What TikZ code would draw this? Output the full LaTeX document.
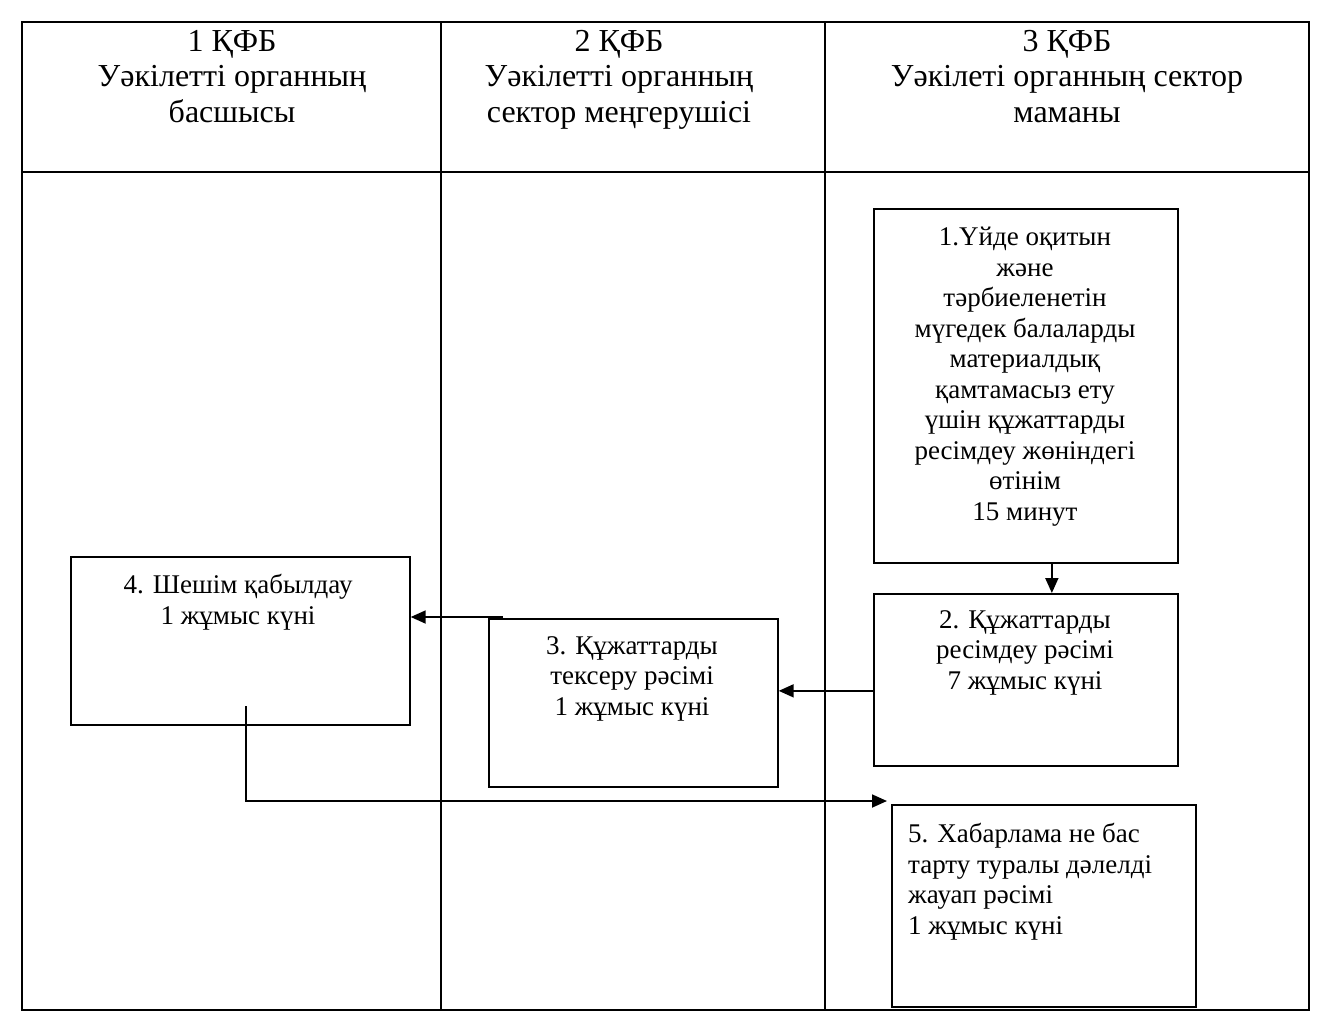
\documentclass[tikz,border=0pt]{standalone}
\usepackage{fontspec}
\setmainfont{Liberation Serif}
\usetikzlibrary{arrows.meta}
\begin{document}
\begin{tikzpicture}[x=1pt,y=-1pt,
  frame/.style={line width=1.8pt},
  box/.style={draw,line width=1.7pt,anchor=north west,inner sep=0pt},
  head/.style={anchor=north,align=center,inner sep=0pt,font=\fontsize{32}{35.5}\selectfont},
  txt/.style={anchor=north,align=center,inner sep=0pt,font=\fontsize{27}{30.5}\selectfont},
  arr/.style={line width=1.8pt,-{Triangle[length=15pt,width=13pt]}}]
\useasboundingbox (0,0) rectangle (1325,1015);
% table
\draw[frame] (22,22) rectangle (1309,1010);
\draw[frame] (22,172) -- (1309,172);
\draw[frame] (441,22) -- (441,1010);
\draw[frame] (825,22) -- (825,1010);
% headers
\node[head] (h1) at (232,30) {1 ҚФБ\\Уәкілетті органның\\басшысы};
\node[head] (h2) at (619,30) {2 ҚФБ\\Уәкілетті органның\\сектор меңгерушісі};
\node[head] (h3) at (1067,30) {3 ҚФБ\\Уәкілеті органның сектор\\маманы};
% boxes
\node[box,minimum width=304pt,minimum height=354pt] (b1) at (873,208) {};
\node[box,minimum width=304pt,minimum height=172pt] (b2) at (873,593) {};
\node[box,minimum width=289pt,minimum height=168pt] (b3) at (488,618) {};
\node[box,minimum width=339pt,minimum height=168pt] (b4) at (70,556) {};
\node[box,minimum width=304pt,minimum height=202pt] (b5) at (891,804) {};
% box texts
\node[txt] (t1) at (1025,227) {1.Үйде оқитын\\және\\тәрбиеленетін\\мүгедек балаларды\\материалдық\\қамтамасыз ету\\үшін құжаттарды\\ресімдеу жөніндегі\\өтінім\\15 минут};
\node[txt] (t2) at (1025,610) {2. Құжаттарды\\ресімдеу рәсімі\\7 жұмыс күні};
\node[txt] (t3) at (632,636) {3. Құжаттарды\\тексеру рәсімі\\1 жұмыс күні};
\node[txt] (t4) at (238,574) {4. Шешім қабылдау\\1 жұмыс күні};
\node[txt,anchor=north west,align=left] (t5) at (908,823) {5. Хабарлама не бас\\тарту туралы дәлелді\\жауап рәсімі\\1 жұмыс күні};
% connectors
\draw[arr] ([xshift=26pt]b1.south) -- ([xshift=26pt]b2.north);
\draw[arr] ([yshift=-11pt]b2.west) -- ([yshift=-11pt]b2.west -| b3.east);
\coordinate (c3) at (503,617);
\draw[arr] (c3) -- (c3 -| b4.east);
\coordinate (c4) at (246,706);
\coordinate (c5) at (887,801);
\draw[arr] (c4) |- (c5);
\end{tikzpicture}
\end{document}
